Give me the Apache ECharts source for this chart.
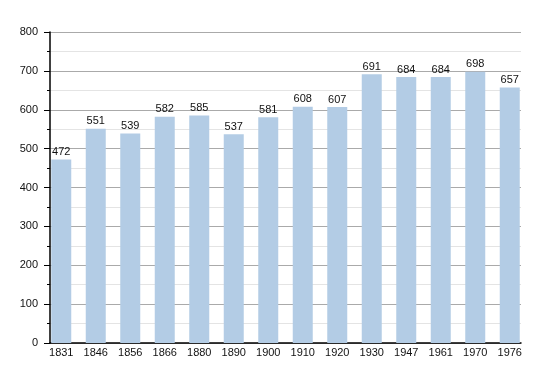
<!DOCTYPE html>
<html><head><meta charset="utf-8">
<script src="https://cdn.jsdelivr.net/npm/echarts@6/dist/echarts.min.js"></script>
<style>html,body{margin:0;padding:0;background:#fff}#c{width:550px;height:373px}</style>
</head><body><div id="c"></div>
<script>
const years = ['1831','1846','1856','1866','1880','1890','1900','1910','1920','1930','1947','1961','1970','1976'];
const population = [472,551,539,582,585,537,581,608,607,691,684,684,698,657];
const yTicks = [0,100,200,300,400,500,600,700,800];

const font = 'Liberation Sans, Arial';
const chart = echarts.init(document.getElementById('c'));
chart.setOption({
  animation: false,
  grid: [
    {left: 50, right: 29, top: 32, bottom: 30},
    {left: 44, right: 23, top: 32, bottom: 30}
  ],
  xAxis: [{
    gridIndex: 0, type: 'category', data: years,
    axisLine: {lineStyle: {color: '#000', width: 1.5}},
    axisTick: {show: false}, axisLabel: {show: false}
  }, {
    gridIndex: 1, type: 'category', data: years,
    axisLine: {show: false},
    axisTick: {show: false},
    axisLabel: {color: '#111', fontSize: 11, fontFamily: font, margin: 4}
  }],
  yAxis: [{
    gridIndex: 0, type: 'value', min: yTicks[0], max: yTicks[yTicks.length-1], interval: 100,
    axisLine: {show: true, lineStyle: {color: '#000', width: 1.5}},
    axisTick: {show: true, length: 6, lineStyle: {color: '#000'}},
    minorTick: {show: true, splitNumber: 2, length: 3, lineStyle: {color: '#000'}},
    splitLine: {lineStyle: {color: '#aaa', width: 1}},
    minorSplitLine: {show: true, lineStyle: {color: '#e4e4e4', width: 1}},
    axisLabel: {color: '#111', fontSize: 11, fontFamily: font, margin: 12}
  }, {
    gridIndex: 1, type: 'value', min: yTicks[0], max: yTicks[yTicks.length-1], interval: 100,
    show: false
  }],
  series: [{
    type: 'bar', data: population, barWidth: 20, xAxisIndex: 1, yAxisIndex: 1,
    itemStyle: {color: '#b3cce5'},
    label: {show: true, position: 'top', distance: 2, color: '#111', fontSize: 11, fontFamily: font}
  }]
});
</script></body></html>
